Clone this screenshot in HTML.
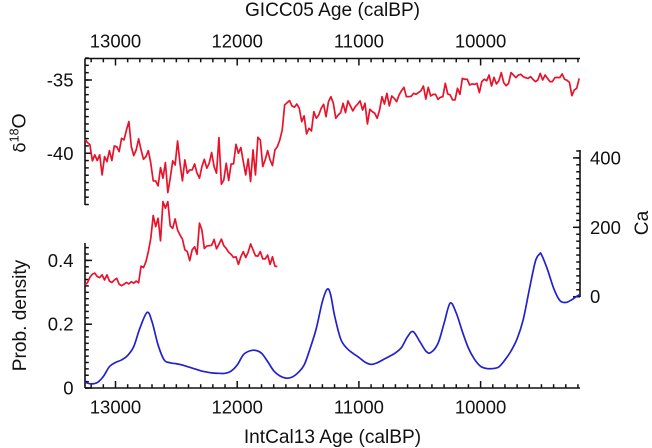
<!DOCTYPE html>
<html>
<head>
<meta charset="utf-8">
<title>Ice core and radiocarbon chart</title>
<style>
html,body{margin:0;padding:0;background:#fff;}
svg{display:block;}
text{font-family:"Liberation Sans","DejaVu Sans",sans-serif;fill:#111;}
</style>
</head>
<body>
<svg id="chart" xmlns="http://www.w3.org/2000/svg" width="652" height="448" viewBox="0 0 652 448">
  <text x="332.5" y="16" text-anchor="middle" font-size="19.1">GICC05 Age (calBP)</text>
  <text x="332.5" y="443" text-anchor="middle" font-size="19.1">IntCal13 Age (calBP)</text>
  <text transform="translate(25.5,133) rotate(-90)" text-anchor="middle" font-size="19.5"><tspan font-family="DejaVu Sans" font-size="17">δ</tspan><tspan font-size="12.5" dy="-7">18</tspan><tspan dy="7">O</tspan></text>
  <text transform="translate(26,315.5) rotate(-90)" text-anchor="middle" font-size="19.1">Prob. density</text>
  <text transform="translate(648,223) rotate(-90)" text-anchor="middle" font-size="19.1">Ca</text>
  <g id="axes"></g>
  <g id="series"></g>
</svg>
<script>
const d18oStartAge = 13250;
const caStartAge = 13250;
const sampleStepYears = 20;

const d18oValues = [
-39.05,-39.27,-39.43,-40.52,-40.11,-40.5,-40.11,-41.48,-40.23,-40.57,-39.82,-40.5,-39.5,-39.55,-39.89,-38.98,-39.09,-38.41,-37.84,-39.55,
-40.16,-39.77,-39.02,-39.77,-40.41,-40.23,-39.82,-40.68,-41.89,-41.89,-42.23,-40.98,-41.7,-40.64,-42.68,-41.7,-40.52,-40.8,-39.16,-40.68,
-41.89,-40.45,-41.36,-41.14,-41.14,-40.73,-41.36,-41.7,-40.91,-40.41,-41.02,-40.68,-39.95,-40.91,-41.36,-38.93,-42.11,-41.82,-40.68,-41.86,
-40.73,-40.73,-39.39,-40,-39.61,-40.57,-41.48,-40.39,-41.93,-39.77,-41.48,-38.91,-39.09,-40.91,-40.45,-39.82,-40.45,-40.84,-39.77,-39.55,
-39.09,-38.41,-36.7,-36.55,-36.41,-36.77,-36.86,-36.64,-36.93,-37.84,-37.45,-38.68,-38.3,-38.48,-37.16,-37.61,-37.39,-36.93,-36.66,-37.5,
-36.48,-36.14,-36.59,-37.61,-37.39,-37.23,-36.59,-37.23,-36.43,-36.77,-37.11,-36.82,-36.64,-36.43,-37.05,-36.59,-38,-37,-37.16,-37.27,
-37.61,-37.05,-36.14,-36.64,-35.91,-36.77,-36.09,-36.25,-36.48,-36.02,-35.73,-35.5,-36.14,-36.14,-36.11,-35.91,-35.98,-35.86,-35.73,-35.41,
-36.3,-35.5,-36.09,-35.98,-35.98,-36.32,-36.18,-36.14,-35.23,-35.95,-36.02,-36.36,-36.36,-35.57,-35.98,-34.89,-34.95,-34.95,-35.34,-35.27,
-35.3,-35.23,-35.86,-35.11,-34.95,-35.05,-34.66,-35.41,-34.82,-35.27,-35.05,-34.5,-35.18,-35.39,-35.23,-34.5,-34.66,-34.84,-34.66,-34.61,
-34.77,-34.84,-34.89,-34.77,-34.95,-35.11,-35,-34.55,-35,-34.66,-34.89,-35.11,-35.11,-34.84,-34.82,-34.84,-34.59,-34.95,-35.02,-35.16,
-36.07,-35.68,-35.57,-34.89
];

const caValues = [
34,41,56,65,68,58,55,63,48,63,45,41,48,53,36,32,36,41,37,43,
39,45,40,88,84,101,130,168,234,202,226,161,274,255,274,204,197,224,192,178,
166,135,130,104,135,144,122,212,192,139,146,147,148,165,138,151,166,147,139,128,
122,113,115,93,115,130,113,128,152,135,118,117,130,109,109,120,93,115,88,87
];

const densityAges = [
13250,13200,13150,13100,13050,13000,12950,12900,12850,12800,12740,12700,12650,12600,12550,12500,12450,12400,12350,12300,
12250,12200,12150,12100,12050,12000,11950,11900,11850,11800,11750,11700,11650,11600,11550,11500,11450,11400,11350,11300,
11260,11232,11200,11150,11100,11050,11000,10950,10900,10850,10800,10750,10700,10650,10600,10555,10500,10450,10410,10350,
10300,10250,10200,10150,10100,10050,10000,9950,9900,9850,9800,9750,9700,9650,9600,9550,9515,9500,9450,9400,
9350,9300,9250,9200,9185
];
const densityValues = [
0.018,0.013,0.017,0.036,0.067,0.080,0.088,0.102,0.130,0.187,0.237,0.208,0.135,0.088,0.079,0.076,0.072,0.066,0.060,0.054,
0.050,0.047,0.046,0.046,0.053,0.072,0.104,0.116,0.118,0.109,0.083,0.054,0.038,0.031,0.034,0.048,0.072,0.125,0.187,0.271,
0.310,0.292,0.227,0.154,0.125,0.109,0.096,0.081,0.074,0.079,0.089,0.099,0.110,0.127,0.161,0.177,0.146,0.116,0.111,0.140,
0.203,0.266,0.235,0.177,0.125,0.090,0.068,0.061,0.061,0.066,0.088,0.116,0.154,0.214,0.308,0.397,0.420,0.418,0.371,0.313,
0.275,0.268,0.277,0.290,0.292
];

const ageMajorTicks = [13000,12000,11000,10000];
const ageTickLabels = ["13000","12000","11000","10000"];
const d18oMajorTicks = [-35,-40];
const d18oTickLabels = ["-35","-40"];
const densityMajorTicks = [0,0.2,0.4];
const densityTickLabels = ["0","0.2","0.4"];
const caMajorTicks = [0,200,400];
const caTickLabels = ["0","200","400"];

const NS = "http://www.w3.org/2000/svg";
const axes = document.getElementById("axes");
const series = document.getElementById("series");
const plotLeft = 85, plotRight = 580, topAxisY = 58.5, bottomAxisY = 388;
const d18oAxisBottom = 205, densityAxisTop = 243, caAxisTop = 150, caAxisBottom = 297;

function xAge(a){ return 115.5 + (13000 - a) * 0.1217; }
function yD18o(v){ return 80 + (-35 - v) * 14.65; }
function yDensity(v){ return 388 - v * 319; }
function yCa(v){ return 296.7 - v * 0.347; }

function drawLine(x1, y1, x2, y2, w, name){
  const el = document.createElementNS(NS, "line");
  el.setAttribute("x1", x1);
  el.setAttribute("y1", y1);
  el.setAttribute("x2", x2);
  el.setAttribute("y2", y2);
  el.setAttribute("stroke", "#111");
  el.setAttribute("stroke-width", w);
  
  
  axes.appendChild(el);
}
function drawLabel(x, y, str, anchor, name){
  const el = document.createElementNS(NS, "text");
  el.setAttribute("x", x);
  el.setAttribute("y", y);
  el.setAttribute("text-anchor", anchor);
  el.setAttribute("font-size", "18.5");
  el.textContent = str;
  
  
  axes.appendChild(el);
}

/* axis spines */
drawLine(plotLeft, topAxisY, plotRight, topAxisY, 1.6, "top-axis-line");
drawLine(plotLeft, bottomAxisY, plotRight, bottomAxisY, 1.6, "bottom-axis-line");
drawLine(plotLeft, topAxisY, plotLeft, d18oAxisBottom, 1.6, "d18o-axis-line");
drawLine(plotLeft, densityAxisTop, plotLeft, bottomAxisY, 1.6, "density-axis-line");
drawLine(plotRight, caAxisTop, plotRight, caAxisBottom, 1.6, "ca-axis-line");

/* age axes minor ticks */
for (let a = 13200; a >= 9200; a -= 100) {
  if (a % 1000 === 0) continue;
  drawLine(xAge(a), topAxisY, xAge(a), topAxisY + 3.8, 1.5, "top-minor-tick");
  drawLine(xAge(a), bottomAxisY, xAge(a), bottomAxisY - 3.8, 1.5, "bottom-minor-tick");
}
/* age axes major ticks and labels */
ageMajorTicks.forEach(function(a, i){
  drawLine(xAge(a), topAxisY, xAge(a), topAxisY + 7, 1.5, "top-major-tick");
  drawLine(xAge(a), bottomAxisY, xAge(a), bottomAxisY - 7, 1.5, "bottom-major-tick");
  drawLabel(xAge(a), 47.5, ageTickLabels[i], "middle", "top-tick-label");
  drawLabel(xAge(a), 413.5, ageTickLabels[i], "middle", "bottom-tick-label");
});

/* d18O axis */
for (let v = -33.5; v >= -43.5; v -= 0.5) {
  drawLine(plotLeft, yD18o(v), plotLeft + 3.8, yD18o(v), 1.5, "d18o-minor-tick");
}
d18oMajorTicks.forEach(function(v, i){
  drawLine(plotLeft, yD18o(v), plotLeft + 7, yD18o(v), 1.5, "d18o-major-tick");
  drawLabel(73.5, yD18o(v) + 6.5, d18oTickLabels[i], "end", "d18o-tick-label");
});

/* density axis */
for (let k = 0; k <= 22; k++) {
  drawLine(plotLeft, yDensity(k * 0.02), plotLeft + 3.8, yDensity(k * 0.02), 1.5, "density-minor-tick");
}
densityMajorTicks.forEach(function(v, i){
  drawLine(plotLeft, yDensity(v), plotLeft + 7, yDensity(v), 1.5, "density-major-tick");
  drawLabel(73.5, yDensity(v) + 6.5, densityTickLabels[i], "end", "density-tick-label");
});

/* Ca axis */
for (let v = 0; v <= 420; v += 20) {
  drawLine(plotRight, yCa(v), plotRight - 3.8, yCa(v), 1.5, "ca-minor-tick");
}
caMajorTicks.forEach(function(v, i){
  drawLine(plotRight, yCa(v), plotRight - 7, yCa(v), 1.5, "ca-major-tick");
  drawLabel(590, yCa(v) + 6.5, caTickLabels[i], "start", "ca-tick-label");
});

/* series */
function appendPath(d, color, name){
  const el = document.createElementNS(NS, "path");
  el.setAttribute("d", d);
  el.setAttribute("fill", "none");
  el.setAttribute("stroke", color);
  el.setAttribute("stroke-width", "1.7");
  el.setAttribute("stroke-linejoin", "round");
  
  
  series.appendChild(el);
}
appendPath(d18oValues.map(function(v, i){
  return (i ? "L" : "M") + xAge(d18oStartAge - i * sampleStepYears).toFixed(2) + " " + yD18o(v).toFixed(2);
}).join(""), "#e8132b", "d18o-line");

appendPath(caValues.map(function(v, i){
  return (i ? "L" : "M") + xAge(caStartAge - i * sampleStepYears).toFixed(2) + " " + yCa(v).toFixed(2);
}).join(""), "#e8132b", "ca-line");

const densityPts = densityValues.map(function(v, i){ return [xAge(densityAges[i]), yDensity(v)]; });
let densityPath = "M" + densityPts[0][0].toFixed(2) + " " + densityPts[0][1].toFixed(2);
for (let i = 0; i < densityPts.length - 1; i++) {
  const p0 = densityPts[Math.max(i - 1, 0)], p1 = densityPts[i], p2 = densityPts[i + 1], p3 = densityPts[Math.min(i + 2, densityPts.length - 1)];
  densityPath += "C" + (p1[0] + (p2[0] - p0[0]) / 6).toFixed(2) + " " + (p1[1] + (p2[1] - p0[1]) / 6).toFixed(2) + " " +
    (p2[0] - (p3[0] - p1[0]) / 6).toFixed(2) + " " + (p2[1] - (p3[1] - p1[1]) / 6).toFixed(2) + " " +
    p2[0].toFixed(2) + " " + p2[1].toFixed(2);
}
appendPath(densityPath, "#2222cc", "probability-density-line");
</script>
</body>
</html>
